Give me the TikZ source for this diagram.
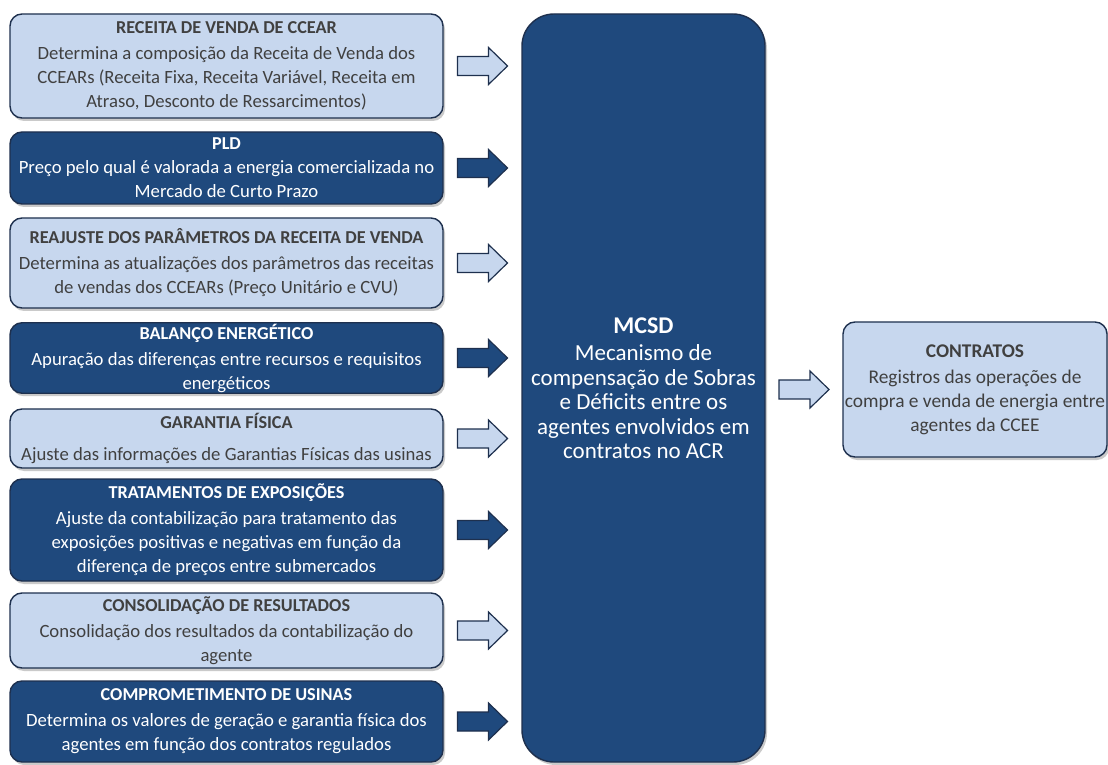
\documentclass[tikz,border=0pt]{standalone}
\usepackage{fontspec}
\setmainfont{Carlito}
\usetikzlibrary{shadows,calc}
\definecolor{darkfill}{RGB}{31,73,125}
\definecolor{lightfill}{RGB}{199,215,238}
\definecolor{edgecol}{RGB}{30,48,78}
\definecolor{txtgray}{RGB}{64,64,64}
\newcommand\ttl[1]{{\fontsize{18.2}{24}\selectfont\textbf{#1}}}
\tikzset{
  x=1pt, y=1pt,
  box/.style={draw=edgecol, line width=1.4pt, rounded corners=12pt, align=center,
    minimum width=433pt, inner sep=1pt,
    font=\fontsize{18.7}{24}\selectfont,
    drop shadow={shadow xshift=2pt, shadow yshift=-3pt, opacity=0.35, fill=black!60}},
  lightbox/.style={box, fill=lightfill, text=txtgray},
  darkbox/.style={box, fill=darkfill, text=white},
  barrow/.style={draw=edgecol, line width=1.2pt, line join=miter},
}
\newcommand\blockarrow[2]{%
  \draw[barrow, fill=#2] ($(#1)+(-25,9.5)$) -- ($(#1)+(6,9.5)$) -- ($(#1)+(6,18.5)$)
    -- ($(#1)+(25,0)$) -- ($(#1)+(6,-18.5)$) -- ($(#1)+(6,-9.5)$) -- ($(#1)+(-25,-9.5)$) -- cycle;}
\begin{document}
\begin{tikzpicture}
\useasboundingbox (0,0) rectangle (1108,764);
\node[lightbox, minimum height=104pt] (b1) at (226.5,698)
  {\ttl{RECEITA DE VENDA DE CCEAR}\\[2pt]Determina a composição da Receita de Venda dos\\CCEARs (Receita Fixa, Receita Variável, Receita em\\Atraso, Desconto de Ressarcimentos)};
\node[darkbox, minimum height=72pt] (b2) at (226.5,596)
  {\ttl{PLD}\\Preço pelo qual é valorada a energia comercializada no\\Mercado de Curto Prazo};
\node[lightbox, minimum height=90pt] (b3) at (226.5,501)
  {\ttl{REAJUSTE DOS PARÂMETROS DA RECEITA DE VENDA}\\[2pt]Determina as atualizações dos parâmetros das receitas\\de vendas dos CCEARs (Preço Unitário e CVU)};
\node[darkbox, minimum height=70pt] (b4) at (226.5,406)
  {\ttl{BALANÇO ENERGÉTICO}\\[2pt]Apuração das diferenças entre recursos e requisitos\\energéticos};
\node[lightbox, minimum height=59pt] (b5) at (226.5,325.5)
  {\ttl{GARANTIA FÍSICA}\\[8pt]Ajuste das informações de Garantias Físicas das usinas};
\node[darkbox, minimum height=102pt] (b6) at (226.5,234)
  {\ttl{TRATAMENTOS DE EXPOSIÇÕES}\\[2pt]Ajuste da contabilização para tratamento das\\exposições positivas e negativas em função da\\diferença de preços entre submercados};
\node[lightbox, minimum height=75pt] (b7) at (226.5,133.5)
  {\ttl{CONSOLIDAÇÃO DE RESULTADOS}\\[2pt]Consolidação dos resultados da contabilização do\\agente};
\node[darkbox, minimum height=81pt] (b8) at (226.5,42.5)
  {\ttl{COMPROMETIMENTO DE USINAS}\\[2pt]Determina os valores de geração e garantia física dos\\agentes em função dos contratos regulados};

\node[darkbox, rounded corners=32pt, minimum width=243pt, minimum height=748pt,
  font=\fontsize{23}{24.5}\selectfont] (mcsd) at (643.5,376)
  {{\fontsize{24}{26}\selectfont\textbf{MCSD}}\\[3pt]Mecanismo de\\compensação de Sobras\\e Déficits entre os\\agentes envolvidos em\\contratos no ACR};

\node[lightbox, minimum width=264pt, minimum height=135pt,
  font=\fontsize{19.4}{24}\selectfont] (ctr) at (975,374.5)
  {\textbf{CONTRATOS}\\[2pt]Registros das operações de\\compra e venda de energia entre\\agentes da CCEE};

\foreach \b/\c in {b1/lightfill,b2/darkfill,b3/lightfill,b4/darkfill,b5/lightfill,b6/darkfill,b7/lightfill,b8/darkfill}{
  \coordinate (a\b) at ($(\b.east)!0.5!(mcsd.west |- \b.east)$);
  \blockarrow{a\b}{\c}
}
\coordinate (actr) at ($(mcsd.east |- ctr.west)!0.5!(ctr.west)$);
\blockarrow{actr}{lightfill}
\end{tikzpicture}
\end{document}
